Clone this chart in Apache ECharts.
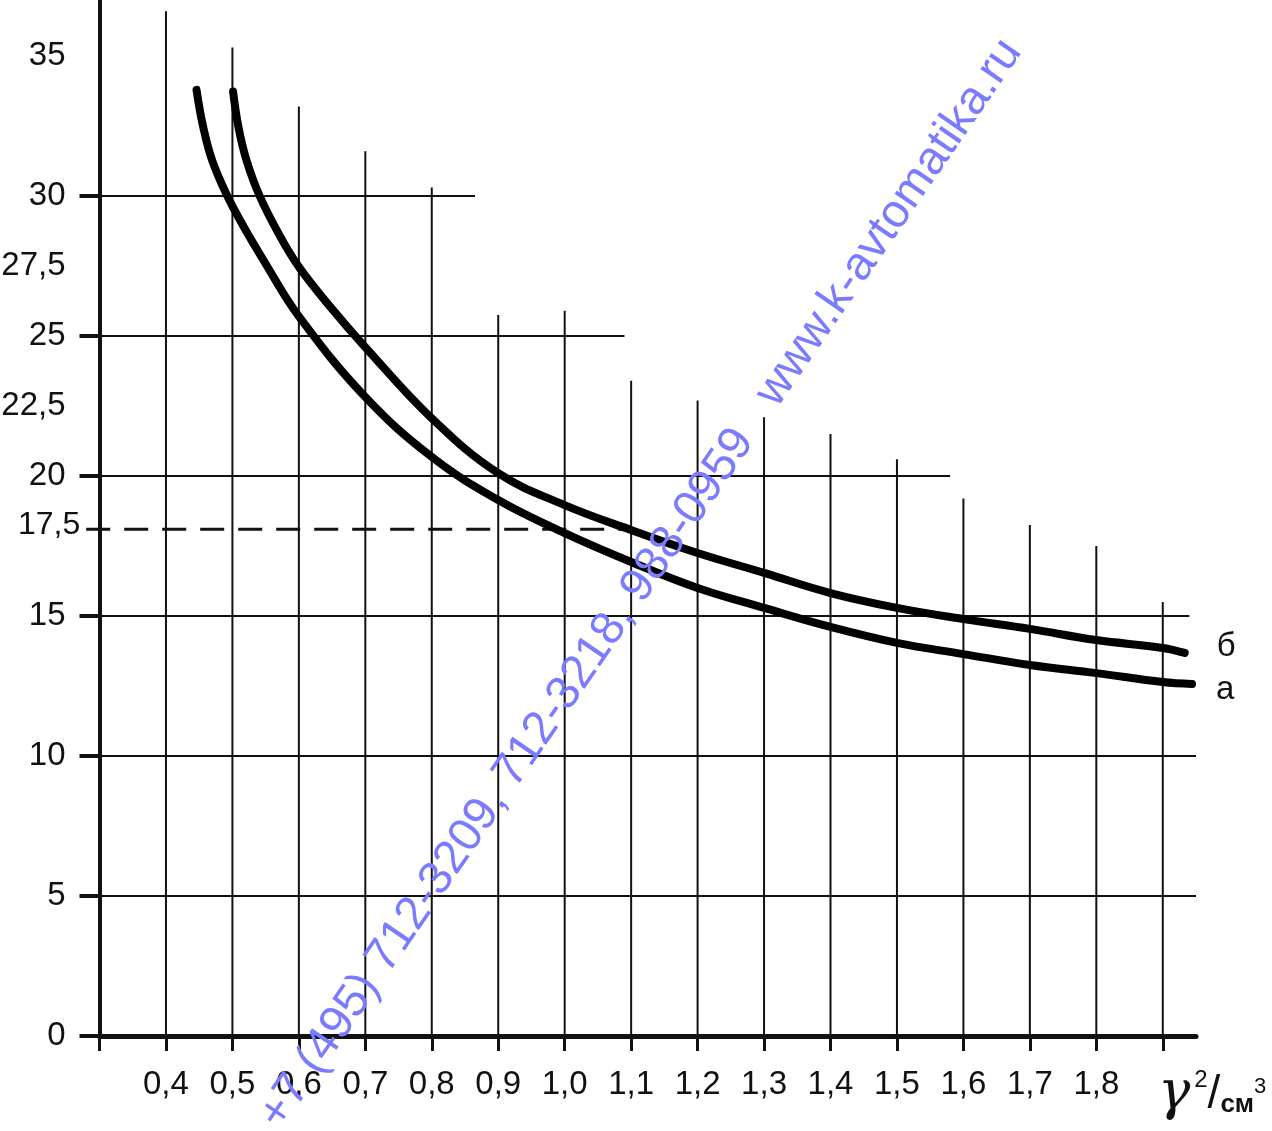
<!DOCTYPE html>
<html>
<head>
<meta charset="utf-8">
<script src="https://cdn.jsdelivr.net/npm/echarts@6/dist/echarts.min.js"></script>
<style>html,body{margin:0;padding:0;background:#fff}#c{width:1272px;height:1131px}</style>
</head>
<body>
<div id="c"></div>
<script>
// ---- data ----
const xTickValues = [0.3,0.4,0.5,0.6,0.7,0.8,0.9,1.0,1.1,1.2,1.3,1.4,1.5,1.6,1.7,1.8,1.9];
const xLabelValues = [0.4,0.5,0.6,0.7,0.8,0.9,1.0,1.1,1.2,1.3,1.4,1.5,1.6,1.7,1.8];
const xLabelTexts = ['0,4','0,5','0,6','0,7','0,8','0,9','1,0','1,1','1,2','1,3','1,4','1,5','1,6','1,7','1,8'];
const yLabelValues = [0,5,10,15,20,22.5,25,27.5,30,35];
const yLabelTexts = ['0','5','10','15','20','22,5','25','27,5','30','35'];
const yTickValues = [0,5,10,15,20,25,30];

// vertical grid lines: x position and top value
const vLineX = [0.4,0.5,0.6,0.7,0.8,0.9,1.0,1.1,1.2,1.3,1.4,1.5,1.6,1.7,1.8,1.9];
const vLineTop = [36.6,35.3,33.2,31.6,30.3,25.75,25.9,23.4,22.7,22.1,21.5,20.6,19.2,18.25,17.5,15.5];
// horizontal grid lines: level and right end
const hLineLevel = [30,25,20,15,10,5];
const hLineEnd = [0.865,1.09,1.58,1.94,1.95,1.95];
// dashed reference line
const dashedLevel = 18.1;
const dashedStart = 0.28;
const dashedEnd = 1.09;
const dashedLabel = '17,5';

// curves
const seriesNames = ['а','б'];
const curveA_x = [0.446,0.456,0.471,0.5,0.552,0.6,0.7,0.8,0.9,1.0,1.1,1.2,1.3,1.4,1.5,1.6,1.7,1.8,1.9,1.944];
const curveA_y = [33.79,32.47,31.17,29.64,27.5,25.7,22.82,20.68,19.14,17.96,16.93,16.0,15.29,14.61,14.04,13.64,13.25,12.96,12.64,12.57];
const curveB_x = [0.501,0.509,0.521,0.541,0.572,0.6,0.647,0.7,0.8,0.9,1.0,1.1,1.2,1.3,1.4,1.5,1.6,1.7,1.8,1.9,1.933];
const curveB_y = [33.73,32.47,31.29,30.0,28.55,27.47,26.05,24.6,22.06,20.1,18.96,18.07,17.25,16.54,15.82,15.29,14.89,14.54,14.14,13.86,13.68];

const xAxisTitle = '{g|γ}{sup|2}{sl|/}{c|см}{sup3|3}';
const watermark = '+7 (495) 712-3209, 712-3218, 988-0959   www.k-avtomatika.ru';

// ---- chart ----
const INK = '#111';
const chart = echarts.init(document.getElementById('c'), null, {renderer: 'canvas'});

function zip(xs, ys){ return xs.map((x,i)=>[x, ys[i]]); }
function findLabel(vals, texts, v){
  for (let i=0;i<vals.length;i++){ if (Math.abs(vals[i]-v) < 1e-6) return texts[i]; }
  return '';
}

const vData = vLineX.map((x,i)=>[x, 0, x, vLineTop[i]]);
const hData = hLineLevel.map((y,i)=>[0.3, y, hLineEnd[i], y]);
const dData = [[dashedStart, dashedLevel, dashedEnd, dashedLevel]];

function segRender(width, dash, withLabel){
  return function(params, api){
    const p0 = api.coord([api.value(0), api.value(1)]);
    const p1 = api.coord([api.value(2), api.value(3)]);
    const children = [{
      type: 'line',
      shape: {x1: p0[0], y1: p0[1], x2: p1[0], y2: p1[1]},
      style: {stroke: INK, lineWidth: width, lineDash: dash || null}
    }];
    if (withLabel) {
      children.push({
        type: 'text', x: p0[0] - 6, y: p0[1] - 4,
        style: {text: dashedLabel, align: 'right', verticalAlign: 'middle',
                font: '32px "Liberation Sans", Arial, sans-serif', fill: INK}
      });
    }
    return {type: 'group', children};
  };
}

const curveStyle = {color: '#000', width: 8, cap: 'round', join: 'round'};

const option = {
  animation: false,
  backgroundColor: '#fff',
  grid: {left: 99.5, right: 76, top: 0, bottom: 95, containLabel: false, outerBoundsMode: 'none'},
  xAxis: {
    type: 'value', min: 0.3, max: 1.95,
    splitLine: {show: false},
    axisLine: {show: true, onZero: false, lineStyle: {color: INK, width: 5}},
    axisTick: {show: true, customValues: xTickValues, length: 15, lineStyle: {color: INK, width: 3}},
    axisLabel: {
      customValues: xLabelValues, margin: 32, color: INK,
      fontSize: 33, fontFamily: '"Liberation Sans Narrow", "Liberation Sans", Arial, sans-serif',
      formatter: v => findLabel(xLabelValues, xLabelTexts, v)
    },
    name: xAxisTitle, nameLocation: 'end', nameGap: -38,
    nameTextStyle: {
      align: 'left', verticalAlign: 'top', padding: [32, 0, 0, 0], color: INK,
      rich: {
        g: {fontSize: 54, fontFamily: '"DejaVu Serif", serif', fontStyle: 'italic', color: INK, verticalAlign: 'bottom'},
        sup: {fontSize: 24, fontFamily: '"Liberation Sans", Arial, sans-serif', color: INK, verticalAlign: 'top', padding: [0,0,0,4]},
        sl: {fontSize: 46, fontFamily: '"Liberation Sans", Arial, sans-serif', color: INK, verticalAlign: 'middle'},
        c: {fontSize: 26, fontWeight: 'bold', fontFamily: '"Liberation Sans", Arial, sans-serif', color: INK, verticalAlign: 'bottom', padding: [0,0,4,0]},
        sup3: {fontSize: 22, fontFamily: '"Liberation Sans", Arial, sans-serif', color: INK, verticalAlign: 'top', padding: [8,0,0,0]}
      }
    }
  },
  yAxis: {
    type: 'value', min: 0, max: 37,
    splitLine: {show: false},
    axisLine: {show: true, onZero: false, lineStyle: {color: INK, width: 4}},
    axisTick: {show: true, customValues: yTickValues, length: 20, lineStyle: {color: INK, width: 4}},
    axisLabel: {
      customValues: yLabelValues, margin: 34, color: INK,
      fontSize: 33, fontFamily: '"Liberation Sans", Arial, sans-serif',
      formatter: v => findLabel(yLabelValues, yLabelTexts, v)
    }
  },
  series: [
    {type: 'custom', name: 'verticals', data: vData, renderItem: segRender(2), silent: true, clip: false, z: 1},
    {type: 'custom', name: 'horizontals', data: hData, renderItem: segRender(2), silent: true, clip: false, z: 1},
    {type: 'custom', name: 'dashed', data: dData, renderItem: segRender(3, [24, 14], true), silent: true, clip: false, z: 1},
    {
      type: 'line', name: seriesNames[0], data: zip(curveA_x, curveA_y),
      showSymbol: false, symbol: 'none', smooth: 0.4, clip: false, z: 5,
      lineStyle: curveStyle,
      endLabel: {show: true, formatter: seriesNames[0], fontSize: 33, color: INK, distance: 24, offset: [0, 6],
                 fontFamily: '"Liberation Sans", Arial, sans-serif'}
    },
    {
      type: 'line', name: seriesNames[1], data: zip(curveB_x, curveB_y),
      showSymbol: false, symbol: 'none', smooth: 0.4, clip: false, z: 5,
      lineStyle: curveStyle,
      endLabel: {show: true, formatter: seriesNames[1], fontSize: 33, color: INK, distance: 32, offset: [0, -6],
                 fontFamily: '"Liberation Sans", Arial, sans-serif'}
    }
  ],
  graphic: [{
    type: 'text', x: 1012, y: 44, rotation: 55.5 * Math.PI / 180, z: 100, silent: true,
    style: {text: watermark, align: 'right', verticalAlign: 'middle',
            font: '47px "Liberation Sans", Arial, sans-serif', fill: '#7b7bff'}
  }]
};
chart.setOption(option);
</script>
</body>
</html>
